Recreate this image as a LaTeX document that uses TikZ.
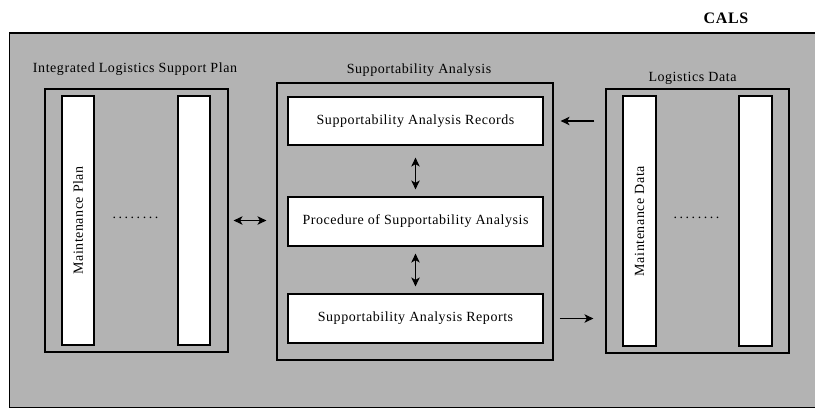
\documentclass[tikz,border=0pt]{standalone}
\usepackage{fontspec}
\setmainfont{Liberation Serif}[LetterSpace=4]
\usetikzlibrary{positioning,arrows.meta}
\definecolor{calsgray}{RGB}{179,179,179}
\tikzset{
  outerbox/.style={draw, line width=1.2pt, inner sep=0pt},
  bar/.style={outerbox, fill=white, minimum width=32pt, minimum height=249pt},
  sabox/.style={outerbox, fill=white, minimum width=255pt, minimum height=48pt, font=\fontsize{14}{16}\selectfont},
  txt/.style={inner sep=0pt, font=\fontsize{14}{16}\selectfont},
  link/.style={line width=1.1pt, {Stealth[length=9pt,width=8.5pt,inset=2.5pt]}-{Stealth[length=9pt,width=8.5pt,inset=2.5pt]}},
  flow/.style={line width=1.1pt, -{Stealth[length=9pt,width=8.5pt,inset=2.5pt]}},
}

\begin{document}
\begin{tikzpicture}[x=1pt,y=-1pt]
    \useasboundingbox (0,0) rectangle (815,408);
    % Background
    \draw[line width=1.2pt, fill=calsgray] (9.5,33) rectangle (830,407.5);
    \node[txt, font=\fontsize{16}{18}\selectfont\bfseries] (cals) at (726,18) {CALS};

    % Integrated Logistics Support Plan
    \node[outerbox, minimum width=183pt, minimum height=263pt] (ilsp) at (136.5,220.5) {};
    \node[txt] (ilsptitle) at (135,69) {Integrated Logistics Support Plan};
    \node[bar] (mplan) at (78,220.5) {};
    \node[txt, rotate=90] (mplantext) at (mplan) {Maintenance Plan};
    \node[bar] (plan2) at (194,220.5) {};
    \node[txt] (pdots) at (135.5,218) {{\addfontfeature{LetterSpace=18}........}};

    % Supportability Analysis
    \node[outerbox, minimum width=276pt, minimum height=277pt] (sa) at (415,221.5) {};
    \node[txt] (satitle) at (419,70) {Supportability Analysis};
    \node[sabox] (rec) at (415.5,121) {Supportability Analysis Records};
    \node[sabox, minimum height=49pt] (proc) at (415.5,221.5) {Procedure of Supportability Analysis};
    \node[sabox, minimum height=49pt] (rep) at (415.5,318.5) {Supportability Analysis Reports};

    % Logistics Data
    \node[outerbox, minimum width=183pt, minimum height=264pt] (ld) at (697.5,221) {};
    \node[txt] (ldtitle) at (692.5,78) {Logistics Data};
    \node[bar, minimum width=33pt, minimum height=250pt] (mdata) at (639.5,221) {};
    \node[txt, rotate=90] (mdatatext) at (mdata) {Maintenance Data};
    \node[bar, minimum width=33pt, minimum height=250pt] (data2) at (755.5,221) {};
    \node[txt] (ddots) at (696.5,218) {{\addfontfeature{LetterSpace=18}........}};

    % Links
    \draw[link, shorten <=5pt, shorten >=10pt] (ilsp.east) -- (ilsp.east -| sa.west);
    \draw[link, shorten <=12pt, shorten >=7pt] (rec) -- (proc);
    \draw[link, shorten <=7pt, shorten >=7pt] (proc) -- (rep);
    \draw[flow, shorten <=11pt, shorten >=17pt] (ld.west |- rec.east) -- (rec.east);
    \draw[flow, shorten <=16pt, shorten >=12pt] (rep.east) -- (ld.west |- rep.east);
\end{tikzpicture}
\end{document}
